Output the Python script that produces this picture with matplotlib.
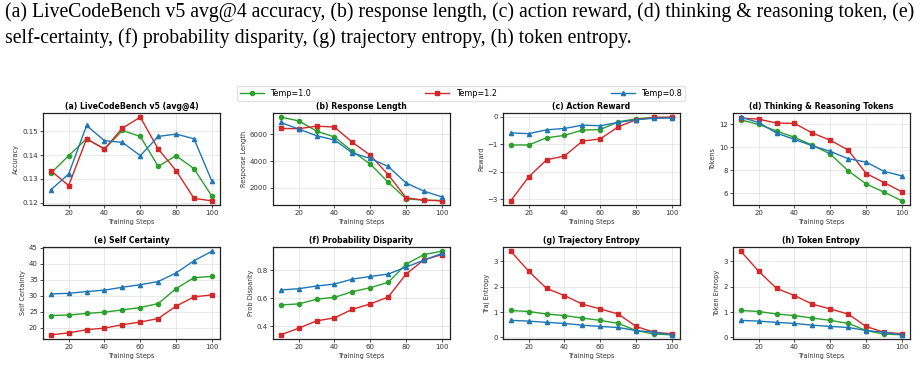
import numpy as np
import matplotlib
matplotlib.use('Agg')
import matplotlib.pyplot as plt

# training steps
steps = [10, 20, 30, 40, 50, 60, 70, 80, 90, 100]

# (a) LiveCodeBench v5 avg@4 accuracy
acc_t10 = [0.1324, 0.1398, 0.1469, 0.1426, 0.1504, 0.1479, 0.1353, 0.1398, 0.1343, 0.1227]
acc_t12 = [0.1335, 0.1272, 0.1469, 0.1426, 0.1514, 0.1560, 0.1426, 0.1335, 0.1218, 0.1208]
acc_t08 = [0.1254, 0.1321, 0.1525, 0.1461, 0.1454, 0.1398, 0.1479, 0.1489, 0.1469, 0.1290]

# (b) response length
len_t10 = [7284, 7012, 6247, 5802, 4741, 3778, 2420, 1185, 1086, 1060]
len_t12 = [6444, 6420, 6617, 6543, 5407, 4444, 2988, 1259, 1086, 1037]
len_t08 = [6889, 6395, 5901, 5580, 4617, 4198, 3605, 2370, 1753, 1333]

# (c) action reward
rew_t10 = [-1.02, -1.02, -0.76, -0.67, -0.48, -0.46, -0.18, -0.07, -0.02, -0.02]
rew_t12 = [-3.05, -2.18, -1.56, -1.42, -0.88, -0.80, -0.36, -0.10, -0.02, -0.01]
rew_t08 = [-0.58, -0.61, -0.47, -0.42, -0.30, -0.32, -0.20, -0.10, -0.05, -0.04]

# (d) thinking & reasoning tokens
tok_t10 = [12.37, 11.97, 11.40, 10.85, 10.17, 9.40, 7.94, 6.81, 6.09, 5.34]
tok_t12 = [12.52, 12.43, 12.09, 12.06, 11.22, 10.60, 9.74, 7.71, 6.93, 6.12]
tok_t08 = [12.60, 12.14, 11.22, 10.67, 10.12, 9.63, 9.00, 8.70, 7.90, 7.50]

# (e) self certainty
sc_t10 = [23.85, 24.0, 24.5, 24.9, 25.6, 26.35, 27.6, 32.3, 35.7, 36.1]
sc_t12 = [17.8, 18.4, 19.4, 19.9, 20.95, 21.8, 22.9, 26.8, 29.7, 30.3]
sc_t08 = [30.6, 30.8, 31.35, 31.8, 32.7, 33.5, 34.5, 37.2, 41.0, 44.0]

# (f) probability disparity
pd_t10 = [0.553, 0.560, 0.593, 0.607, 0.647, 0.675, 0.713, 0.842, 0.910, 0.934]
pd_t12 = [0.341, 0.388, 0.440, 0.461, 0.522, 0.560, 0.609, 0.772, 0.873, 0.910]
pd_t08 = [0.659, 0.668, 0.687, 0.701, 0.736, 0.755, 0.772, 0.821, 0.871, 0.918]

# (g) trajectory entropy
te_t10 = [1.06, 1.02, 0.92, 0.86, 0.76, 0.67, 0.55, 0.27, 0.13, 0.10]
te_t12 = [3.40, 2.61, 1.93, 1.65, 1.31, 1.12, 0.92, 0.43, 0.20, 0.14]
te_t08 = [0.67, 0.64, 0.59, 0.55, 0.48, 0.43, 0.39, 0.27, 0.20, 0.10]

# (h) token entropy
ke_t10 = [1.06, 1.02, 0.92, 0.86, 0.76, 0.67, 0.55, 0.27, 0.13, 0.10]
ke_t12 = [3.40, 2.61, 1.93, 1.65, 1.31, 1.12, 0.92, 0.43, 0.20, 0.14]
ke_t08 = [0.67, 0.64, 0.59, 0.55, 0.48, 0.43, 0.39, 0.27, 0.20, 0.10]

titles = ['(a) LiveCodeBench v5 (avg@4)', '(b) Response Length', '(c) Action Reward',
          '(d) Thinking & Reasoning Tokens', '(e) Self Certainty', '(f) Probability Disparity',
          '(g) Trajectory Entropy', '(h) Token Entropy']
ylabels = ['Accuracy', 'Response Length', 'Reward', 'Tokens',
           'Self Certainty', 'Prob Disparity', 'Traj Entropy', 'Token Entropy']
panels = [(acc_t10, acc_t12, acc_t08), (len_t10, len_t12, len_t08),
          (rew_t10, rew_t12, rew_t08), (tok_t10, tok_t12, tok_t08),
          (sc_t10, sc_t12, sc_t08), (pd_t10, pd_t12, pd_t08),
          (te_t10, te_t12, te_t08), (ke_t10, ke_t12, ke_t08)]

series = [('Temp=1.0', '#2ca02c', 'o'), ('Temp=1.2', '#d62728', 's'), ('Temp=0.8', '#1f77b4', '^')]

fig = plt.figure(figsize=(9.21, 3.67), dpi=100)

# caption text from the paper
fig.text(0.005, 1 - 17 / 367, '(a) LiveCodeBench v5 avg@4 accuracy, (b) response length, (c) action reward, '
         '(d) thinking & reasoning token, (e)', family='Liberation Serif', fontsize=14.2, va='baseline')
fig.text(0.005, 1 - 43 / 367, 'self-certainty, (f) probability disparity, (g) trajectory entropy, (h) token entropy.',
         family='Liberation Serif', fontsize=14.2, va='baseline')

lefts = [42.7, 272.7, 502.7, 732.7]
bottoms = [1 - 205 / 367, 1 - 339 / 367]
w = 177.3 / 921
h = 92 / 367

handles = []
for i, (vals, title, ylab) in enumerate(zip(panels, titles, ylabels)):
    ax = fig.add_axes([lefts[i % 4] / 921, bottoms[i // 4], w, h])
    for (lab, col, mk), y in zip(series, vals):
        ln, = ax.plot(steps, y, color=col, marker=mk, markersize=3, lw=1, label=lab)
        if i == 0:
            handles.append(ln)
    ax.set_title(title, fontsize=5.6, fontweight='bold', pad=3)
    ax.set_ylabel(ylab, fontsize=4.7, labelpad=2, color='#333333')
    ax.set_xlabel('Training Steps', fontsize=4.7, labelpad=2, color='#333333')
    ax.set_xticks([20, 40, 60, 80, 100])
    ax.grid(True, color='#cccccc', alpha=0.5, lw=0.6)
    ax.tick_params(labelsize=5, length=2, width=0.6, pad=1.5, colors='#333333')
    for s in ax.spines.values():
        s.set_linewidth(0.9)
        s.set_color('#222222')

fig.legend(handles, [s[0] for s in series], loc='lower left', ncol=3, mode='expand',
           bbox_to_anchor=(237 / 921, 1 - 101 / 367, 448 / 921, 14 / 367),
           borderaxespad=0, fontsize=5.75, handlelength=3, frameon=True,
           edgecolor='#dddddd', borderpad=0.4)

fig.savefig('out.png', dpi=100)
